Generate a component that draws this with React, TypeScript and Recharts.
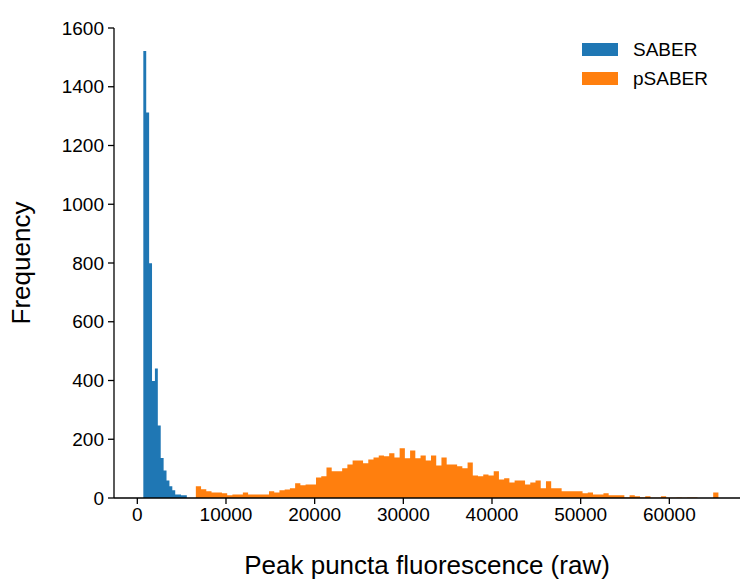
import { Area, ComposedChart, Legend, XAxis, YAxis } from 'recharts';

// histogram bins
const saberStart = 677;
const saberBinWidth = 327;
const saberCounts = [1522, 1312, 799, 398, 441, 247, 136, 94, 60, 40, 26, 12, 12, 9, 9];

const psaberStart = 6600;
const psaberBinWidth = 589.35;
const psaberCounts = [
  40, 30, 23, 19, 19, 16, 9, 12, 12, 19,
  12, 12, 12, 12, 23, 19, 26, 29, 33, 50,
  43, 46, 46, 70, 74, 104, 91, 91, 101, 114,
  128, 128, 118, 131, 138, 145, 142, 152, 138, 169,
  135, 162, 135, 145, 128, 145, 111, 138, 114, 114,
  108, 101, 121, 77, 74, 80, 77, 91, 63, 67,
  53, 60, 60, 46, 53, 60, 33, 57, 33, 33,
  23, 23, 23, 23, 16, 19, 12, 12, 16, 9,
  9, 9, 2, 9, 6, 2, 6, 1, 1, 6,
  1, 1, 2, 1, 2, 2, 0, 0, 0, 19,
];

const xTicks = [0, 10000, 20000, 30000, 40000, 50000, 60000];
const yTicks = [0, 200, 400, 600, 800, 1000, 1200, 1400, 1600];

const FONT = '"Liberation Sans", Arial, Helvetica, sans-serif';
const BLUE = '#1f77b4';
const ORANGE = '#ff7f0e';

type Row = { x: number; saber: number | null; psaber: number | null };

// bin left edges plus a closing edge, drawn as step areas
const rows: Row[] = [
  ...saberCounts.map((c, i) => ({ x: saberStart + i * saberBinWidth, saber: c, psaber: null })),
  { x: saberStart + saberCounts.length * saberBinWidth, saber: 0, psaber: null },
  ...psaberCounts.map((c, i) => ({ x: psaberStart + i * psaberBinWidth, saber: null, psaber: c })),
  { x: psaberStart + psaberCounts.length * psaberBinWidth, saber: null, psaber: 0 },
];

function LegendContent({ payload }: any) {
  return (
    <div style={{ fontFamily: FONT, fontSize: 19, color: '#000' }}>
      {(payload ?? []).map((entry: any) => (
        <div key={entry.value} style={{ display: 'flex', alignItems: 'center', height: 29 }}>
          <span
            style={{ display: 'inline-block', width: 36, height: 13, background: entry.color, marginRight: 15 }}
          />
          <span>{entry.value}</span>
        </div>
      ))}
    </div>
  );
}

export default function App() {
  const tick = { fontSize: 19, fill: '#000', fontFamily: FONT };
  const axisLine = { stroke: '#000', strokeWidth: 1.3 };
  return (
    <div style={{ position: 'absolute', left: 0, top: 0, background: '#fff' }}>
      <ComposedChart
        width={746}
        height={584}
        data={rows}
        margin={{ top: 28, right: 6, bottom: 0, left: 0 }}
      >
        <XAxis
          dataKey="x"
          type="number"
          domain={[-2630, 67970]}
          ticks={xTicks}
          allowDataOverflow
          height={86}
          tick={tick}
          tickSize={6}
          tickMargin={4}
          axisLine={axisLine}
          tickLine={axisLine}
          label={{
            value: 'Peak puncta fluorescence (raw)',
            position: 'insideBottom',
            offset: 10,
            style: { fontSize: 26, fill: '#000', fontFamily: FONT },
          }}
        />
        <YAxis
          type="number"
          domain={[0, 1600]}
          ticks={yTicks}
          allowDataOverflow
          width={114}
          tick={tick}
          tickSize={6}
          tickMargin={4}
          axisLine={axisLine}
          tickLine={axisLine}
          label={{
            value: 'Frequency',
            position: 'insideLeft',
            angle: -90,
            offset: 21,
            style: { fontSize: 26, fill: '#000', fontFamily: FONT, textAnchor: 'middle' },
          }}
        />
        <Legend
          layout="vertical"
          align="center"
          verticalAlign="middle"
          content={<LegendContent />}
          wrapperStyle={{ left: 582, top: 35, width: 'auto', height: 'auto' }}
        />
        <Area
          name="SABER"
          dataKey="saber"
          type="stepAfter"
          stroke="none"
          fill={BLUE}
          fillOpacity={1}
          isAnimationActive={false}
        />
        <Area
          name="pSABER"
          dataKey="psaber"
          type="stepAfter"
          stroke="none"
          fill={ORANGE}
          fillOpacity={1}
          isAnimationActive={false}
        />
      </ComposedChart>
    </div>
  );
}
